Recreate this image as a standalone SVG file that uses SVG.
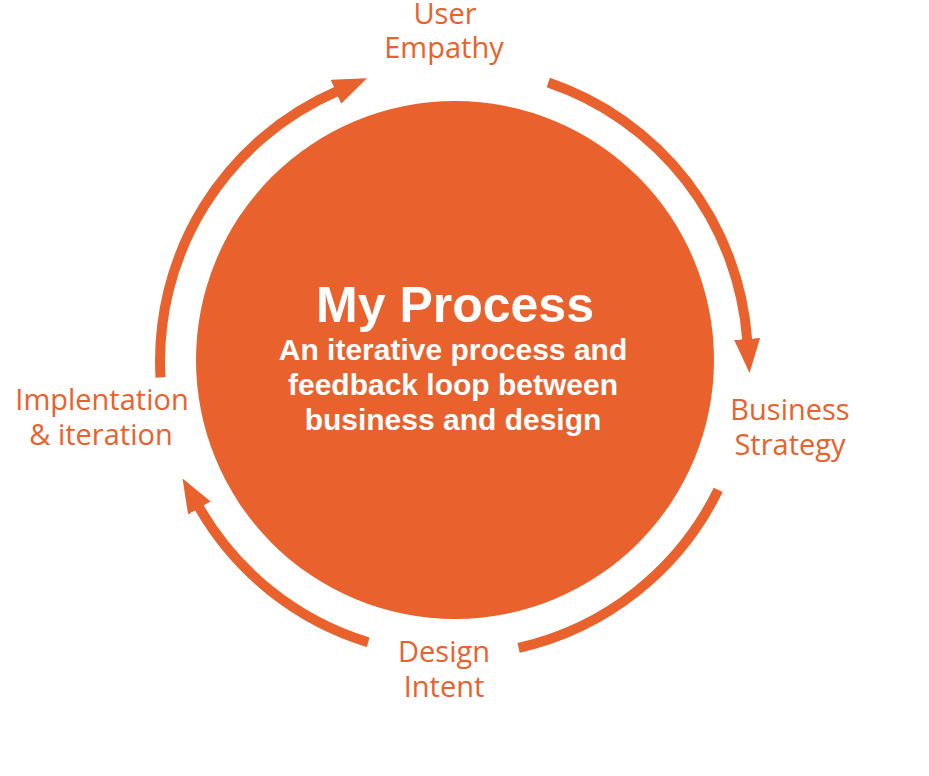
<svg xmlns="http://www.w3.org/2000/svg" width="929" height="776" viewBox="0 0 929 776">
<style>
.bg{fill:#ffffff}
.ring{fill:none;stroke:#E9612C;stroke-width:10}
.lbl{font-family:"Open Sans","Liberation Sans",sans-serif;font-size:29px;font-weight:500;fill:#E9612C;text-anchor:middle}
.ttl{font-family:"Liberation Sans",Arial,sans-serif;font-weight:bold;fill:#ffffff;text-anchor:middle}
</style>
<defs>
<marker id="ah" markerUnits="userSpaceOnUse" markerWidth="34" markerHeight="26" viewBox="0 0 34 26" refX="1" refY="13" orient="auto">
<path d="M0,0 L34,13 L0,26 z" fill="#E9612C"/>
</marker>
</defs>
<rect class="bg" x="0" y="0" width="929" height="776"/>
<g id="connectors">
<path class="ring" d="M160.5,377.4 A294,294 0 0 1 336.8,91.4" marker-end="url(#ah)"/>
<path class="ring" d="M548.3,82.5 A294,294 0 0 1 747.2,340" marker-end="url(#ah)"/>
<path class="ring" d="M718.2,489.9 A294,294 0 0 1 518.6,647.8"/>
<path class="ring" d="M368.2,642.2 A294,294 0 0 1 198.9,507.1" marker-end="url(#ah)"/>
</g>
<g id="center">
<circle cx="455" cy="360" r="259" fill="#E9612C"/>
<text class="ttl" x="455" y="322" font-size="50">My Process</text>
<text class="ttl" x="453" y="360" font-size="30">An iterative process and</text>
<text class="ttl" x="453" y="395" font-size="30">feedback loop between</text>
<text class="ttl" x="453" y="430" font-size="30">business and design</text>
</g>
<g id="user-empathy">
<text class="lbl" x="445" y="24">User</text>
<text class="lbl" x="444" y="58">Empathy</text>
</g>
<g id="business-strategy">
<text class="lbl" x="790" y="420">Business</text>
<text class="lbl" x="790" y="455">Strategy</text>
</g>
<g id="design-intent">
<text class="lbl" x="444" y="662">Design</text>
<text class="lbl" x="444" y="697">Intent</text>
</g>
<g id="implementation">
<text class="lbl" x="102" y="410">Implentation</text>
<text class="lbl" x="101" y="445">&amp; iteration</text>
</g>
</svg>
